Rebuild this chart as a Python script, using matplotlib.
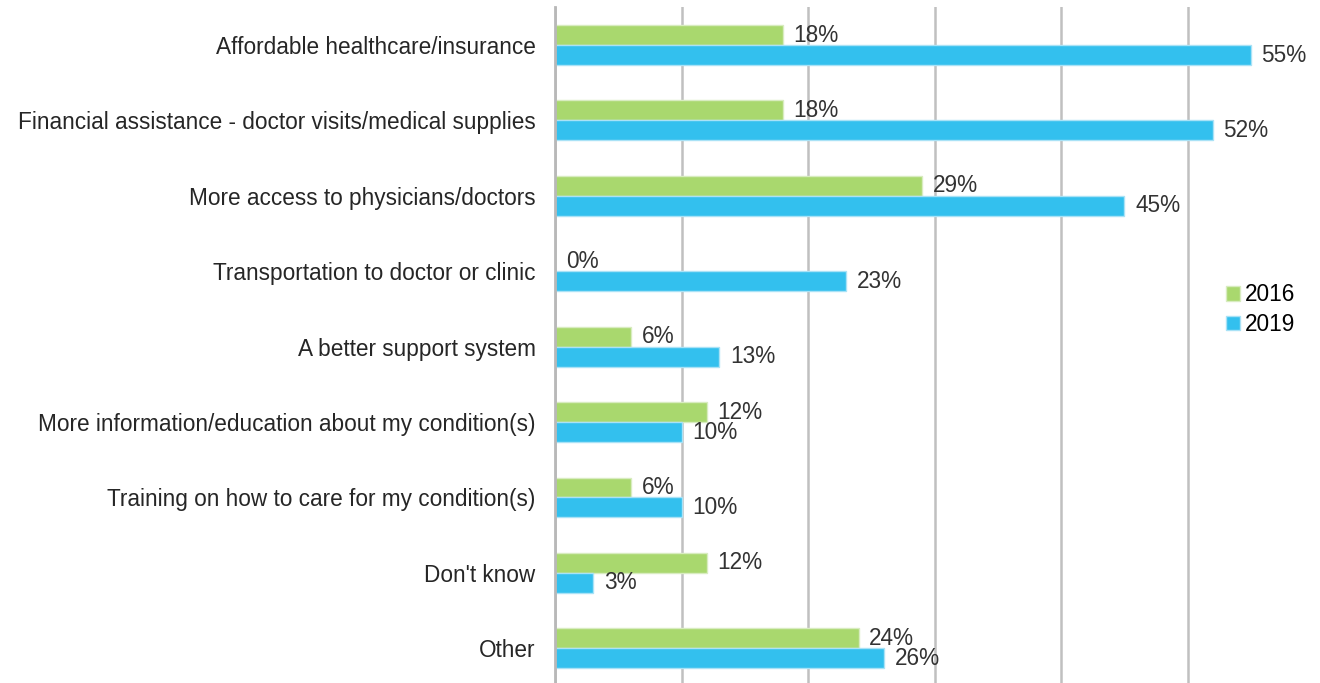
import numpy as np
import matplotlib.pyplot as plt

plt.rcParams["font.family"] = ["Liberation Sans", "DejaVu Sans"]

categories = [
    "Affordable healthcare/insurance",
    "Financial assistance - doctor visits/medical supplies",
    "More access to physicians/doctors",
    "Transportation to doctor or clinic",
    "A better support system",
    "More information/education about my condition(s)",
    "Training on how to care for my condition(s)",
    "Don't know",
    "Other",
]
vals_2016 = [18, 18, 29, 0, 6, 12, 6, 12, 24]
vals_2019 = [55, 52, 45, 23, 13, 10, 10, 3, 26]

green = "#A9D86E"
blue = "#33C0EE"
fs = 16.3

fig = plt.figure(figsize=(13.2, 6.83), dpi=100)
ax = fig.add_axes([555 / 1320, 0, (1314 - 555) / 1320, 1 - 7 / 683])

y = np.arange(len(categories))
h = 0.265

b1 = ax.barh(y - h / 2, vals_2016, height=h, color=green, edgecolor="#d8ecc0",
             linewidth=1, label="2016", zorder=3)
b2 = ax.barh(y + h / 2, vals_2019, height=h, color=blue, edgecolor="#a9e2f6",
             linewidth=1, label="2019", zorder=3)

for bars, vals in ((b1, vals_2016), (b2, vals_2019)):
    for bar, v in zip(bars, vals):
        ax.text(v + 0.85, bar.get_y() + bar.get_height() / 2, f"{v}%",
                va="center", ha="left", fontsize=fs, color="#333333", zorder=4)

ax.set_xlim(0, 60)
ax.set_ylim(len(categories) - 0.54, -0.504)
ax.set_xticks([0, 10, 20, 30, 40, 50])
ax.set_xticklabels([])
ax.tick_params(axis="x", length=0)
ax.set_yticks(y)
ax.set_yticklabels(categories, fontsize=fs, color="#262626")
ax.tick_params(axis="y", length=0, pad=14)

ax.grid(axis="x", color="#c0c0c0", linewidth=1.8, zorder=0)
ax.grid(axis="y", visible=False)
for s in ["top", "right", "bottom"]:
    ax.spines[s].set_visible(False)
ax.spines["left"].set_color("#b8b8b8")
ax.spines["left"].set_linewidth(2)
ax.spines["left"].set_zorder(5)

fig.legend(loc="upper left", bbox_to_anchor=(1215 / 1320, 1 - 272 / 683),
           frameon=False, fontsize=fs, handlelength=0.6, handleheight=0.6,
           handletextpad=0.2, labelspacing=0.3, borderpad=0)

plt.savefig("out.png", dpi=100)
